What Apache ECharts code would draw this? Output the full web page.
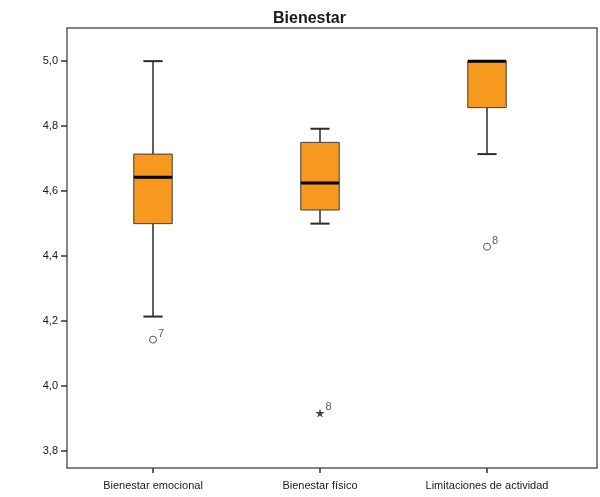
<!DOCTYPE html>
<html>
<head>
<meta charset="utf-8">
<script src="https://cdn.jsdelivr.net/npm/echarts@6/dist/echarts.min.js"></script>
<style>
  html, body { margin: 0; padding: 0; background: #fff; }
  #chart { width: 600px; height: 497px; }
</style>
</head>
<body>
<div id="chart"></div>
<script>
// Wellbeing scores per dimension (boxplot five-number summaries)
const categories = ['Bienestar emocional', 'Bienestar físico', 'Limitaciones de actividad'];
const lowWhisker = [4.214, 4.5, 4.714];
const q1 = [4.5, 4.542, 4.857];
const median = [4.643, 4.625, 5.0];
const q3 = [4.714, 4.75, 5.0];
const highWhisker = [5.0, 4.792, 5.0];

// Outlying cases: category index, value, case number, kind
const outlierCat = [0, 1, 2];
const outlierValue = [4.143, 3.917, 4.429];
const outlierCase = ['7', '8', '8'];
const outlierKind = ['circle', 'extreme', 'circle'];

const yTicks = [3.8, 4.0, 4.2, 4.4, 4.6, 4.8, 5.0];
const yMin = 3.748, yMax = 5.102;

const FONT = '"Liberation Sans", Arial, sans-serif';
const STAR = 'path://M50,0 L61,35 L98,35 L68,57 L79,91 L50,70 L21,91 L32,57 L2,35 L39,35 Z';

const boxData = categories.map((c, i) => [i, lowWhisker[i], q1[i], median[i], q3[i], highWhisker[i]]);

function renderBox(params, api) {
  const i = api.value(0);
  const band = api.size([1, 0])[0];
  const half = band * 0.115;
  const cap = half * 0.5;
  const x = api.coord([i, 0])[0];
  const yLow = api.coord([i, api.value(1)])[1];
  const yQ1 = api.coord([i, api.value(2)])[1];
  const yMed = api.coord([i, api.value(3)])[1];
  const yQ3 = api.coord([i, api.value(4)])[1];
  const yHigh = api.coord([i, api.value(5)])[1];
  const whisk = { stroke: '#2b2b2b', lineWidth: 1.5 };
  return {
    type: 'group',
    children: [
      { type: 'line', shape: { x1: x, y1: yQ3, x2: x, y2: yHigh }, style: whisk },
      { type: 'line', shape: { x1: x, y1: yQ1, x2: x, y2: yLow }, style: whisk },
      { type: 'line', shape: { x1: x - cap, y1: yHigh, x2: x + cap, y2: yHigh }, style: { stroke: '#2b2b2b', lineWidth: 2 } },
      { type: 'line', shape: { x1: x - cap, y1: yLow, x2: x + cap, y2: yLow }, style: { stroke: '#2b2b2b', lineWidth: 2 } },
      { type: 'rect', shape: { x: x - half, y: yQ3, width: half * 2, height: yQ1 - yQ3 },
        style: { fill: '#F7991F', stroke: '#3c3c3c', lineWidth: 1 } },
      { type: 'line', shape: { x1: x - half, y1: yMed, x2: x + half, y2: yMed }, style: { stroke: '#000', lineWidth: 3 } }
    ]
  };
}

const outlierData = outlierCat.map((c, k) => ({
  value: [c, outlierValue[k]],
  symbol: outlierKind[k] === 'extreme' ? STAR : 'circle',
  symbolSize: outlierKind[k] === 'extreme' ? 9 : 7,
  itemStyle: outlierKind[k] === 'extreme'
    ? { color: '#111', borderWidth: 0 }
    : { color: '#fff', borderColor: '#333', borderWidth: 1 },
  label: { formatter: outlierCase[k] }
}));

const chart = echarts.init(document.getElementById('chart'), null, { renderer: 'canvas' });
chart.setOption({
  animation: false,
  backgroundColor: '#fff',
  textStyle: { fontFamily: FONT },
  title: {
    text: 'Bienestar',
    left: 268,
    top: 6,
    textStyle: { fontFamily: FONT, fontSize: 16, fontWeight: 'bold', color: '#1a1a1a' }
  },
  grid: [
    // frame
    { left: 67, right: 3, top: 28, bottom: 29, show: true, borderColor: '#5e5e5e', borderWidth: 1.5, backgroundColor: 'transparent' },
    // data area
    { left: 69.5, right: 29.5, top: 28, bottom: 29 }
  ],
  xAxis: [
    { gridIndex: 0, type: 'value', min: 0, max: 1, show: false },
    {
      gridIndex: 1, type: 'category', data: categories,
      boundaryGap: true,
      axisLine: { show: false },
      axisTick: { show: true, alignWithLabel: true, length: 5, lineStyle: { color: '#333', width: 1.5 } },
      axisLabel: { color: '#1a1a1a', fontSize: 11, fontFamily: FONT, margin: 12, interval: 0 },
      splitLine: { show: false }
    }
  ],
  yAxis: [
    {
      gridIndex: 0, type: 'value', min: yMin, max: yMax,
      axisLine: { show: false },
      axisTick: { show: true, length: 6, customValues: yTicks, lineStyle: { color: '#333', width: 1.5 } },
      axisLabel: {
        color: '#1a1a1a', fontSize: 11, fontFamily: FONT, margin: 9,
        customValues: yTicks,
        formatter: v => v.toFixed(1).replace('.', ',')
      },
      splitLine: { show: false }
    },
    { gridIndex: 1, type: 'value', min: yMin, max: yMax, show: false, splitLine: { show: false } }
  ],
  series: [
    {
      type: 'custom',
      xAxisIndex: 1, yAxisIndex: 1,
      renderItem: renderBox,
      encode: { x: 0, y: [1, 2, 3, 4, 5] },
      data: boxData,
      z: 3
    },
    {
      type: 'scatter',
      xAxisIndex: 1, yAxisIndex: 1,
      data: outlierData,
      label: {
        show: true, position: 'right', distance: 1, offset: [0, -6],
        color: '#333', fontSize: 11, fontFamily: FONT
      },
      z: 4
    }
  ]
});
</script>
</body>
</html>
